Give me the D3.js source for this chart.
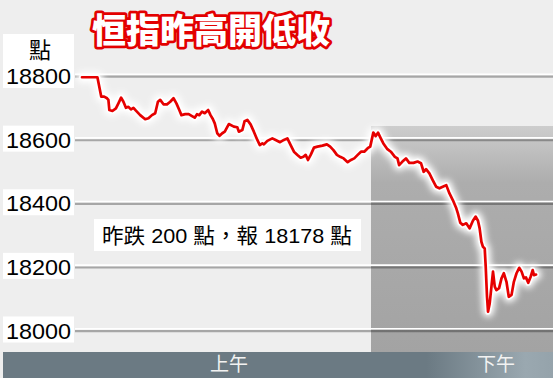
<!DOCTYPE html>
<html><head><meta charset="utf-8">
<script src="https://cdn.jsdelivr.net/npm/d3@7"></script>
<style>
html,body{margin:0;padding:0;background:#eeeeee;}
svg{display:block;}
</style></head>
<body>
<svg id="c" width="553" height="378"></svg>
<script>
// ---- data ----
const title = "恒指昨高開低收";
const unitLabel = "點";
const note = "昨跌 200 點，報 18178 點";
const sessionLabels = ["上午", "下午"];
const yTicks = [18000, 18200, 18400, 18600, 18800];
// minutes since 9:30 open (morning 0-150, afternoon 150-330)
const times = [0,8,10,11.5,13,13.7,14.2,15.8,17.6,18.9,20.3,21.5,22.8,24.1,25.4,26.7,28,30.2,32.8,34.5,36.3,38,39.4,40.6,42.3,44.1,45.8,47.5,49,50.5,51.6,53.6,55.4,57.1,58.5,59.7,60.9,62.3,63.7,65.5,66.7,67.9,68.9,70.2,71.4,72.8,74.1,76.2,78.8,80.6,81.4,83.2,84.4,85.8,87.5,89.2,91,92.3,93.6,94.4,96.2,98.8,100.5,102.8,104.8,106.6,108.3,110,111.8,113.5,114.9,116.1,117.3,118.7,120.4,122.2,124.8,127.1,128.8,130.5,132.3,134,135.8,137.9,139.6,141.3,143.1,144.8,146.5,148.3,149.6,
152.5,155.1,157.6,160.6,163.4,167.8,171.5,175.9,178.7,180.5,184.1,187.9,191.5,196.1,200.5,204.2,207.1,209.7,213.3,216.9,220.6,224.2,227.8,231.6,235.1,238.7,242.5,244.2,246.8,249.6,253.3,256.9,260.5,263.5,266,267.8,269.7,271.4,273.3,274.4,275.8,276.9,278.7,280.6,282.3,284.2,286,288.9,291.5,294,296.9,299.4,302.4,304.9,307.8,310.7,313.3,315.8,318,320.5,323.1,325.3,326.7,328.9];
const values = [18796,18796,18735,18735,18730,18725,18693,18690,18698,18714,18732,18719,18700,18703,18695,18700,18691,18677,18664,18667,18677,18683,18719,18725,18711,18711,18719,18730,18714,18693,18677,18680,18680,18674,18669,18680,18677,18688,18683,18693,18677,18665,18651,18620,18612,18620,18625,18649,18641,18639,18625,18630,18658,18662,18648,18625,18599,18583,18588,18585,18596,18604,18599,18592,18599,18604,18583,18562,18552,18543,18546,18552,18536,18552,18575,18578,18581,18585,18578,18567,18552,18546,18541,18529,18536,18541,18552,18562,18562,18573,18578,
18622,18611,18622,18604,18588,18570,18562,18546,18541,18520,18531,18541,18527,18527,18531,18526,18499,18507,18494,18473,18452,18447,18452,18457,18431,18410,18384,18368,18339,18332,18337,18321,18345,18358,18345,18321,18279,18263,18258,18200,18106,18059,18085,18138,18185,18138,18127,18133,18164,18180,18153,18106,18112,18153,18180,18197,18185,18164,18167,18150,18169,18190,18174,18176];

const svg = d3.select("#c");
const W = 553, H = 378;
const x = d3.scaleLinear().domain([0,150,330]).range([82,371,537]);
const y = d3.scaleLinear().domain([18000,18800]).range([330.5,76]);
const barTop = 352;
const num = "'Liberation Sans', Arial, sans-serif";
const cjk = "'Liberation Sans', 'Noto Sans CJK TC', sans-serif";

const defs = svg.append("defs");
const gg = defs.append("linearGradient").attr("id","pm").attr("x1",0).attr("y1",0).attr("x2",0).attr("y2",1);
gg.append("stop").attr("offset","0%").attr("stop-color","#cdcdcd");
gg.append("stop").attr("offset","25%").attr("stop-color","#adadad");
gg.append("stop").attr("offset","100%").attr("stop-color","#a3a3a3");
const bg = defs.append("linearGradient").attr("id","bar").attr("x1",0).attr("y1",0).attr("x2",1).attr("y2",0);
bg.append("stop").attr("offset","0%").attr("stop-color","#6b7a83");
bg.append("stop").attr("offset","0.77").attr("stop-color","#6b7a83");
bg.append("stop").attr("offset","0.95").attr("stop-color","#9aa8b0");
bg.append("stop").attr("offset","1").attr("stop-color","#95a3ab");
defs.append("filter").attr("id","glow").attr("x","-10%").attr("y","-10%").attr("width","120%").attr("height","120%")
  .append("feGaussianBlur").attr("stdDeviation",3);

svg.append("rect").attr("width",W).attr("height",H).attr("fill","#eeeeee");

// afternoon shading
svg.append("rect").attr("x",x(150)).attr("y",126).attr("width",W-x(150)).attr("height",barTop-126).attr("fill","url(#pm)");

// gridlines
const grid = svg.append("g");
yTicks.forEach(t=>{
  grid.append("line").attr("x1",75).attr("x2",W).attr("y1",y(t)-1.8).attr("y2",y(t)-1.8).attr("stroke","#ffffff").attr("stroke-width",1.6);
  grid.append("line").attr("x1",75).attr("x2",W).attr("y1",y(t)+0.6).attr("y2",y(t)+0.6).attr("stroke","rgba(0,0,0,0.3)").attr("stroke-width",2.2);
});

// y labels
svg.append("rect").attr("x",3).attr("y",34).attr("width",71).attr("height",y(18800)+12-34).attr("fill","#ffffff");
yTicks.filter(t=>t!==18800).forEach(t=>{
  svg.append("rect").attr("x",3).attr("y",y(t)-14).attr("width",71).attr("height",26).attr("fill","#ffffff");
});
svg.append("g").selectAll("text").data(yTicks).join("text")
  .attr("x",6).attr("y",d=>y(d)+8)
  .attr("font-family",num).attr("font-size",22).attr("fill","#000")
  .attr("textLength",65).attr("lengthAdjust","spacingAndGlyphs")
  .text(d=>d);
svg.append("text").attr("x",40).attr("y",58).attr("text-anchor","middle")
  .attr("font-family","'Noto Sans CJK TC', sans-serif").attr("font-size",22).attr("fill","#000").text(unitLabel);

// line
const line = d3.line().x((d,i)=>x(times[i])).y(d=>y(d));
svg.append("path").datum(values).attr("d",line).attr("fill","none").attr("stroke","#ffffff")
  .attr("stroke-width",11).attr("stroke-linejoin","round").attr("stroke-linecap","round").attr("filter","url(#glow)");
svg.append("path").datum(values).attr("d",line).attr("fill","none").attr("stroke","#ffffff")
  .attr("stroke-width",6).attr("stroke-linejoin","round").attr("stroke-linecap","round").attr("opacity",0.85);
svg.append("path").datum(values).attr("d",line).attr("fill","none").attr("stroke","#e60000")
  .attr("stroke-width",2.7).attr("stroke-linejoin","round").attr("stroke-linecap","round");

// annotation
svg.append("rect").attr("x",94).attr("y",219).attr("width",267).attr("height",32).attr("fill","#ffffff");
svg.append("text").attr("x",102).attr("y",242.5)
  .attr("font-family",cjk).attr("font-size",21).attr("fill","#000")
  .attr("textLength",250).attr("lengthAdjust","spacingAndGlyphs")
  .text(note);

// bottom bar
svg.append("rect").attr("x",3).attr("y",barTop).attr("width",W-3).attr("height",H-barTop).attr("fill","url(#bar)");
svg.append("text").attr("x",229).attr("y",371).attr("text-anchor","middle")
  .attr("font-family","'Noto Sans CJK TC', sans-serif").attr("font-size",19).attr("fill","#f2f2f2").text(sessionLabels[0]);
svg.append("text").attr("x",496).attr("y",371).attr("text-anchor","middle")
  .attr("font-family","'Noto Sans CJK TC', sans-serif").attr("font-size",19).attr("fill","#f2f2f2").text(sessionLabels[1]);

// title
svg.append("text").attr("x",211).attr("y",43).attr("text-anchor","middle")
  .attr("font-family","'Noto Sans CJK TC', sans-serif").attr("font-weight",900).attr("font-size",34)
  .attr("fill","#ffffff").attr("stroke","#e30000").attr("stroke-width",5.5).attr("stroke-linejoin","round")
  .attr("paint-order","stroke").text(title);
</script>
</body></html>
